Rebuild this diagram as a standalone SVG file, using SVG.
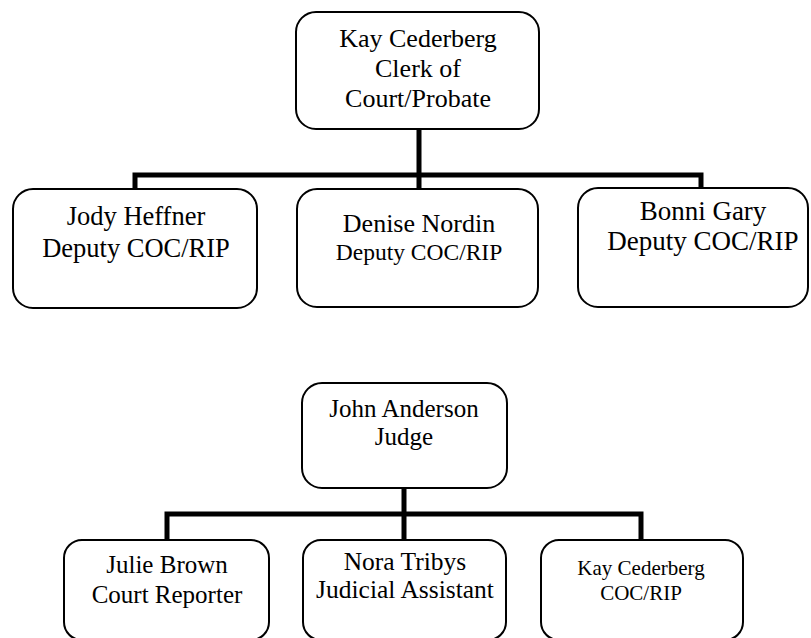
<svg xmlns="http://www.w3.org/2000/svg" width="811" height="638" viewBox="0 0 811 638">
<style>
.box{fill:#fff;stroke:#000;stroke-width:2}
text{font-family:'Liberation Serif','Times New Roman','DejaVu Serif',serif;fill:#000;text-anchor:middle}
.c{fill:none;stroke:#000;stroke-width:5;stroke-linejoin:miter;stroke-linecap:butt}
</style>
<rect width="811" height="638" fill="#fff"/>
<g id="connectors">
<path class="c" d="M419 129 V189 M135 189 V175 H701 V189"/>
<path class="c" d="M404 488 V540 M167 540 V514 H641 V540"/>
</g>
<g id="kay-top">
<rect class="box" x="296" y="12" width="243" height="117" rx="20"/>
<text x="418" y="47" font-size="26" font-family="Liberation Serif, serif">Kay Cederberg</text>
<text x="418" y="77" font-size="26" font-family="Liberation Serif, serif">Clerk of</text>
<text x="418" y="107" font-size="26" font-family="Liberation Serif, serif">Court/Probate</text>
</g>
<g id="jody">
<rect class="box" x="13" y="189" width="244" height="119" rx="20"/>
<text x="136" y="225" font-size="26.5" font-family="Liberation Serif, serif">Jody Heffner</text>
<text x="136" y="257" font-size="26.5" font-family="Liberation Serif, serif">Deputy COC/RIP</text>
</g>
<g id="denise">
<rect class="box" x="297" y="189" width="241" height="118" rx="20"/>
<text x="419" y="232" font-size="26" font-family="Liberation Serif, serif">Denise Nordin</text>
<text x="419" y="260" font-size="23.5" font-family="Liberation Serif, serif">Deputy COC/RIP</text>
</g>
<g id="bonni">
<rect class="box" x="578" y="188" width="230" height="119" rx="20"/>
<text x="703" y="220" font-size="27" font-family="Liberation Serif, serif">Bonni Gary</text>
<text x="703" y="250" font-size="27" font-family="Liberation Serif, serif">Deputy COC/RIP</text>
</g>
<g id="john">
<rect class="box" x="302" y="383" width="205" height="105" rx="20"/>
<text x="404" y="417" font-size="25" font-family="Liberation Serif, serif">John Anderson</text>
<text x="404" y="445" font-size="25" font-family="Liberation Serif, serif">Judge</text>
</g>
<g id="julie">
<rect class="box" x="64" y="540" width="205" height="100" rx="18"/>
<text x="167" y="573" font-size="25" font-family="Liberation Serif, serif">Julie Brown</text>
<text x="167" y="603" font-size="25" font-family="Liberation Serif, serif">Court Reporter</text>
</g>
<g id="nora">
<rect class="box" x="303" y="540" width="203" height="100" rx="18"/>
<text x="405" y="570" font-size="25.5" font-family="Liberation Serif, serif">Nora Tribys</text>
<text x="405" y="598" font-size="25.5" font-family="Liberation Serif, serif">Judicial Assistant</text>
</g>
<g id="kay-bottom">
<rect class="box" x="541" y="540" width="202" height="100" rx="18"/>
<text x="641" y="575" font-size="21" font-family="Liberation Serif, serif">Kay Cederberg</text>
<text x="641" y="600" font-size="21" font-family="Liberation Serif, serif">COC/RIP</text>
</g>
</svg>
